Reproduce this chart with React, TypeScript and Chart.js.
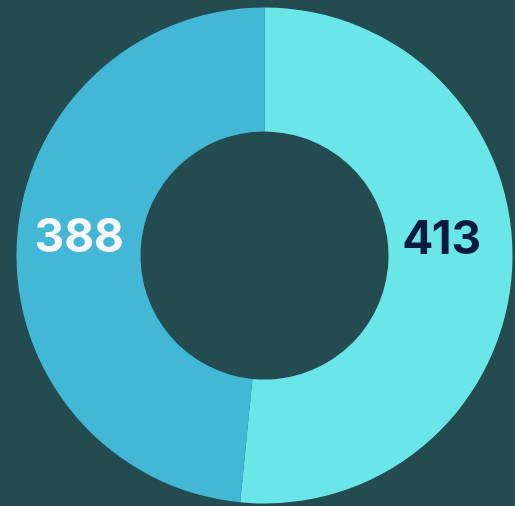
import React, { useEffect, useRef } from "react";
import { Chart, registerables } from "chart.js";

Chart.register(...registerables);

const categories = ["A", "B"];
const values = [413, 388];
const sliceColors = ["#6ae6e8", "#43b8d6"];
const labelColors = ["#0b1a3f", "#f6f7f8"];
// small per-label nudges (styling only)
const labelNudges = [
  [-8.5, -24.5],
  [0.5, -8],
];

const BG = "#244b50";

const labelPlugin = {
  id: "sliceLabels",
  afterDatasetsDraw(chart: any) {
    const { ctx } = chart;
    const meta = chart.getDatasetMeta(0);
    ctx.save();
    ctx.font = "700 46px Inter, 'Open Sans', sans-serif";
    ctx.textAlign = "center";
    ctx.textBaseline = "middle";
    meta.data.forEach((arc: any, i: number) => {
      const p = arc.tooltipPosition();
      const [dx, dy] = labelNudges[i] || [0, 0];
      ctx.fillStyle = labelColors[i];
      ctx.fillText(String(chart.data.datasets[0].data[i]), p.x + dx, p.y + dy);
    });
    ctx.restore();
  },
};

export default function App() {
  const ref = useRef<HTMLCanvasElement | null>(null);
  useEffect(() => {
    document.body.style.margin = "0";
    document.body.style.background = BG;
    const chart = new Chart(ref.current as HTMLCanvasElement, {
      type: "doughnut",
      data: {
        labels: categories,
        datasets: [
          {
            data: values,
            backgroundColor: sliceColors,
            borderWidth: 0,
          },
        ],
      },
      options: {
        responsive: false,
        animation: false,
        cutout: "50%",
        layout: { padding: { left: 16.5, right: 2.5, top: 7.5, bottom: 2.5 } },
        plugins: {
          legend: { display: false },
          tooltip: { enabled: false },
        },
      },
      plugins: [labelPlugin],
    });
    return () => chart.destroy();
  }, []);
  return (
    <div style={{ position: "fixed", left: 0, top: 0, width: 515, height: 506, background: BG }}>
      <canvas ref={ref} width={515} height={506} style={{ width: 515, height: 506, display: "block" }} />
    </div>
  );
}
